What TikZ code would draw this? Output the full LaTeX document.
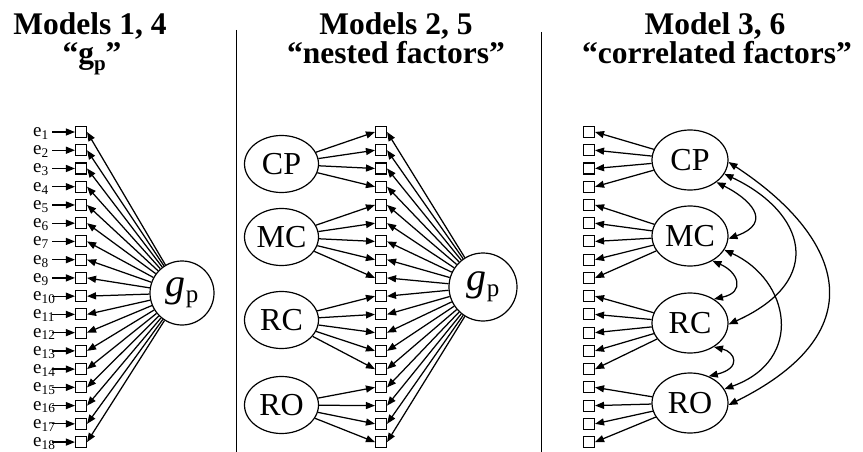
\documentclass[tikz,border=0pt]{standalone}
\usepackage{fontspec}
\setmainfont{Liberation Serif}
\usetikzlibrary{arrows.meta,shapes.geometric}
\begin{document}
\begin{tikzpicture}[x=1pt,y=-1pt,
  box/.style={draw,line width=1.1pt,minimum size=11pt,inner sep=0pt,fill=white},
  fac/.style={draw,ellipse,line width=1.2pt,minimum width=74pt,minimum height=57pt,inner sep=0pt,font=\fontsize{32}{32}\selectfont},
  gen/.style={draw,circle,line width=1.2pt,minimum size=64pt,inner sep=0pt},
  ttl/.style={font=\fontsize{31.5}{31.5}\selectfont\bfseries,inner sep=0pt,anchor=base},
  elab/.style={font=\fontsize{19}{19}\selectfont,inner sep=0pt,anchor=base west},
  arr/.style={line width=1.25pt,-{Triangle[length=9pt,width=7pt]}},
  dbl/.style={line width=1.25pt,{Triangle[length=9pt,width=7pt]}-{Triangle[length=9pt,width=7pt]}},
  sep/.style={line width=0.9pt}]
\useasboundingbox (0,0) rectangle (863,452);
% titles
\node[ttl] (t1a) at (90,35) {Models 1, 4};
\node[ttl] (t1b) at (92,64) {“g\raisebox{-7pt}{\fontsize{21}{21}\selectfont p}”};
\node[ttl] (t2a) at (396,35) {Models 2, 5};
\node[ttl] (t2b) at (396,64) {“nested factors”};
\node[ttl] (t3a) at (715,35) {Model 3, 6};
\node[ttl] (t3b) at (717,64) {“correlated factors”};
% separators
\coordinate (s1t) at (236,30); \coordinate (s1b) at (236,452);
\coordinate (s2t) at (541,32); \coordinate (s2b) at (541,452);
\draw[sep] (s1t) -- (s1b);
\draw[sep] (s2t) -- (s2b);
% general factor nodes
\node[gen] (g1) at (182,293) {{\fontsize{40}{40}\selectfont\itshape g}\raisebox{-6pt}{\fontsize{25}{25}\selectfont p}};
\node[gen,minimum size=68pt] (g2) at (483,287) {{\fontsize{40}{40}\selectfont\itshape g}\raisebox{-6pt}{\fontsize{25}{25}\selectfont p}};
% group factors panel 2
\node[fac] (CP2) at (281.5,164) {CP};
\node[fac] (MC2) at (281.5,237) {MC};
\node[fac] (RC2) at (281.5,320) {RC};
\node[fac] (RO2) at (281.5,405) {RO};
% group factors panel 3
\node[fac,minimum height=60pt,minimum width=76pt] (CP3) at (690,160) {CP};
\node[fac,minimum height=60pt,minimum width=76pt] (MC3) at (690,236) {MC};
\node[fac,minimum height=60pt,minimum width=76pt] (RC3) at (690,323) {RC};
\node[fac,minimum height=60pt,minimum width=76pt] (RO3) at (690,403) {RO};
% indicators
\foreach \i in {1,...,18}{
  \pgfmathsetmacro\yy{132+(\i-1)*18.24}
  \node[box] (a\i) at (81,\yy) {};
  \node[box] (b\i) at (381,\yy) {};
  \node[box] (c\i) at (589,\yy) {};
  \node[elab] (e\i) at (33,\yy+4.5) {e\textsubscript{\i}};
  \coordinate (t\i) at (52,\yy);
  \draw[arr] (t\i) -- (a\i.west);
  \draw[arr] (g1) -- (a\i.east);
  \draw[arr] (g2) -- (b\i.east);
}
\foreach \i in {1,...,4}{\draw[arr] (CP2) -- (b\i.west); \draw[arr] (CP3) -- (c\i.east);}
\foreach \i in {5,...,9}{\draw[arr] (MC2) -- (b\i.west); \draw[arr] (MC3) -- (c\i.east);}
\foreach \i in {10,...,14}{\draw[arr] (RC2) -- (b\i.west); \draw[arr] (RC3) -- (c\i.east);}
\foreach \i in {15,...,18}{\draw[arr] (RO2) -- (b\i.west); \draw[arr] (RO3) -- (c\i.east);}
% correlations
\draw[dbl] (CP3.-40) .. controls (748,198) and (775,222) .. (MC3.-4);
\draw[dbl] (MC3.-48) .. controls (738,272) and (746,292) .. (RC3.45);
\draw[dbl] (RC3.-45) .. controls (735,352) and (742,368) .. (RO3.55);
\draw[dbl] (CP3.-22) .. controls (805,212) and (827,280) .. (RC3.-2);
\draw[dbl] (MC3.-22) .. controls (790,280) and (805,360) .. (RO3.22);
\draw[dbl] (CP3.-3) .. controls (840,235) and (880,330) .. (RO3.-3);
\end{tikzpicture}
\end{document}
